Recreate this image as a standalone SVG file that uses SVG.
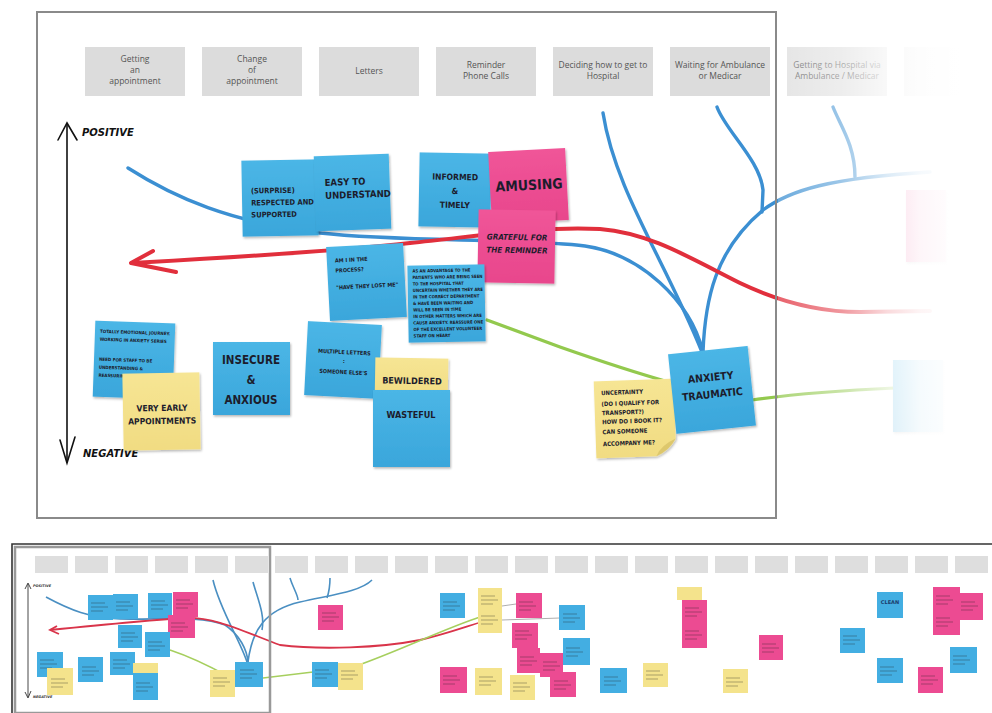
<svg xmlns="http://www.w3.org/2000/svg" width="992" height="713" viewBox="0 0 992 713">
  <defs>
    <filter id="shadow" x="-20%" y="-20%" width="140%" height="140%">
      <feDropShadow dx="1" dy="1.6" stdDeviation="1.3" flood-color="#000" flood-opacity="0.28"/>
    </filter>
    <linearGradient id="blueFill" x1="0" y1="0" x2="0" y2="1">
      <stop offset="0" stop-color="#4bb6e6"/>
      <stop offset="1" stop-color="#3aa6db"/>
    </linearGradient>
    <linearGradient id="pinkFill" x1="0" y1="0" x2="0" y2="1">
      <stop offset="0" stop-color="#f05598"/>
      <stop offset="1" stop-color="#e8468c"/>
    </linearGradient>
    <linearGradient id="yellowFill" x1="0" y1="0" x2="0" y2="1">
      <stop offset="0" stop-color="#f6e594"/>
      <stop offset="1" stop-color="#f1dc82"/>
    </linearGradient>
    <linearGradient id="fadeOut" gradientUnits="userSpaceOnUse" x1="778" y1="0" x2="960" y2="0">
      <stop offset="0" stop-color="#fff" stop-opacity="0.25"/>
      <stop offset="0.35" stop-color="#fff" stop-opacity="0.5"/>
      <stop offset="0.6" stop-color="#fff" stop-opacity="0.82"/>
      <stop offset="0.78" stop-color="#fff" stop-opacity="0.95"/>
      <stop offset="1" stop-color="#fff" stop-opacity="1"/>
    </linearGradient>
    <g id="scrib">
      <path d="M3,6 h14 M3,10 h17 M3,14 h12" stroke="#222" stroke-width="0.8" opacity="0.45" fill="none"/>
    </g>
  </defs>
  <style>
    .hdr { fill: #dcdcdc; }
    .hdrt { font-family: "Open Sans", "Noto Sans", sans-serif; font-size: 8.5px; fill: #555; text-anchor: middle; }
    .nb { fill: url(#blueFill); filter: url(#shadow); }
    .np { fill: url(#pinkFill); filter: url(#shadow); }
    .ny { fill: url(#yellowFill); filter: url(#shadow); }
    .ink { font-family: "DejaVu Sans Condensed", "DejaVu Sans", sans-serif; font-weight: bold; fill: #1c1c2c; }
    .c { text-anchor: middle; }
    .axis { stroke: #111; stroke-width: 1.6; fill: none; stroke-linecap: round; }
    .axt { font-family: "DejaVu Sans", sans-serif; font-weight: bold; font-style: italic; font-size: 10px; fill: #111; }
    .blue { stroke: #3b8fd2; stroke-width: 3.4; fill: none; stroke-linecap: round; }
    .red { stroke: #e12f3c; stroke-width: 4; fill: none; stroke-linecap: round; stroke-linejoin: round; }
    .green { stroke: #93c94e; stroke-width: 3.2; fill: none; stroke-linecap: round; }
    .mhdr { fill: #dedede; }
    .mb { fill: #43aee2; }
    .mp { fill: #ec4b92; }
    .my { fill: #f4e38c; }
    .mblue { stroke: #4a8fc2; stroke-width: 1.6; fill: none; }
    .mred { stroke: #d9344a; stroke-width: 1.8; fill: none; }
    .mgreen { stroke: #a6cf5e; stroke-width: 1.5; fill: none; }
  </style>

  <rect width="992" height="713" fill="#fff"/>

  <!-- ===== Journey detail view ===== -->
  <g id="stages">
    <rect class="hdr" x="85" y="47" width="100" height="49"/>
    <text class="hdrt" x="135" y="62">Getting</text>
    <text class="hdrt" x="135" y="73">an</text>
    <text class="hdrt" x="135" y="84">appointment</text>
    <rect class="hdr" x="202" y="47" width="100" height="49"/>
    <text class="hdrt" x="252" y="62">Change</text>
    <text class="hdrt" x="252" y="73">of</text>
    <text class="hdrt" x="252" y="84">appointment</text>
    <rect class="hdr" x="319" y="47" width="100" height="49"/>
    <text class="hdrt" x="369" y="74">Letters</text>
    <rect class="hdr" x="436" y="47" width="100" height="49"/>
    <text class="hdrt" x="486" y="68">Reminder</text>
    <text class="hdrt" x="486" y="79">Phone Calls</text>
    <rect class="hdr" x="553" y="47" width="100" height="49"/>
    <text class="hdrt" x="603" y="68">Deciding how to get to</text>
    <text class="hdrt" x="603" y="79">Hospital</text>
    <rect class="hdr" x="670" y="47" width="100" height="49"/>
    <text class="hdrt" x="720" y="68">Waiting for Ambulance</text>
    <text class="hdrt" x="720" y="79">or Medicar</text>
    <rect class="hdr" x="787" y="47" width="100" height="49"/>
    <text class="hdrt" x="837" y="68">Getting to Hospital via</text>
    <text class="hdrt" x="837" y="79">Ambulance / Medicar</text>
    <rect class="hdr" x="904" y="47" width="100" height="49"/>
  </g>

  <g id="axis">
    <path class="axis" d="M67,124 L67,462"/>
    <path class="axis" d="M58,140 L67,123 L77,140"/>
    <path class="axis" d="M60,440 L67,463 L75,437"/>
    <text class="axt" x="82" y="136">POSITIVE</text>
    <text class="axt" x="83" y="457">NEGATIVE</text>
  </g>

  <g id="connectors">
    <path class="blue" d="M128,168 C175,198 230,222 320,233 C400,242 520,238 585,246 C640,254 690,300 703,352"/>
    <path class="blue" d="M603,113 C615,190 665,260 702,352"/>
    <path class="blue" d="M717,107 C725,130 760,160 763,190 L762,212"/>
    <path class="blue" d="M703,352 C705,300 715,250 763,210 C790,190 830,178 930,172"/>
    <path class="blue" d="M833,107 C840,125 855,145 855,177" stroke-width="2.6"/>
    <path class="red" d="M132,263 C220,258 330,252 410,243 C480,236 540,226 600,229 C650,233 690,258 740,283 C780,302 820,312 860,312 L930,311"/>
    <path class="red" d="M153,251 L131,263 L176,272"/>
    <path class="green" d="M487,320 L560,347 C600,361 640,374 672,383"/>
    <path class="green" d="M752,400 C800,393 850,390 895,388"/>
  </g>

  <g id="n-respected" transform="rotate(-1 280 198)">
    <rect class="nb" x="242" y="160" width="76" height="76"/>
    <text class="ink" font-size="7.5" x="251" y="193">(SURPRISE)</text>
    <text class="ink" font-size="7.5" x="251" y="205">RESPECTED AND</text>
    <text class="ink" font-size="7.5" x="251" y="217">SUPPORTED</text>
  </g>
  <g id="n-easy" transform="rotate(-2 352 192)">
    <rect class="nb" x="315" y="155" width="75" height="75"/>
    <text class="ink" font-size="9.5" x="325" y="185">EASY TO</text>
    <text class="ink" font-size="9.5" x="325" y="198">UNDERSTAND</text>
  </g>
  <g id="n-informed" transform="rotate(1 455 190)">
    <rect class="nb" x="419" y="153" width="72" height="74"/>
    <text class="ink c" font-size="8.5" x="455" y="180">INFORMED</text>
    <text class="ink c" font-size="8.5" x="455" y="194">&amp;</text>
    <text class="ink c" font-size="8.5" x="455" y="208">TIMELY</text>
  </g>
  <g id="n-amusing" transform="rotate(-3 528 186)">
    <rect class="np" x="490" y="150" width="77" height="72"/>
    <text class="ink c" font-size="14" x="529" y="190">AMUSING</text>
  </g>
  <g id="n-grateful" transform="rotate(1 516 246)">
    <rect class="np" x="478" y="210" width="77" height="73"/>
    <text class="ink c" font-size="8" font-style="italic" x="517" y="240">GRATEFUL FOR</text>
    <text class="ink c" font-size="8" font-style="italic" x="517" y="253">THE REMINDER</text>
  </g>
  <g id="n-process" transform="rotate(-3 366 282)">
    <rect class="nb" x="328" y="245" width="77" height="74"/>
    <text class="ink" font-size="5.5" x="336" y="261">AM I IN THE</text>
    <text class="ink" font-size="5.5" x="336" y="271">PROCESS?</text>
    <text class="ink" font-size="5.5" x="336" y="288">"HAVE THEY LOST ME"</text>
  </g>
  <g id="n-volunteer" transform="rotate(-1 446 303)">
    <rect class="nb" x="408" y="265" width="77" height="77"/>
    <g class="ink" font-size="4.3">
      <text x="413" y="272">AS AN ADVANTAGE TO THE</text>
      <text x="413" y="278.5">PATIENTS WHO ARE BEING SEEN</text>
      <text x="413" y="285">TO THE HOSPITAL THAT</text>
      <text x="413" y="291.5">UNCERTAIN WHETHER THEY ARE</text>
      <text x="413" y="298">IN THE CORRECT DEPARTMENT</text>
      <text x="413" y="304.5">&amp; HAVE BEEN WAITING AND</text>
      <text x="413" y="311">WILL BE SEEN IN TIME</text>
      <text x="413" y="317.5">IN OTHER MATTERS WHICH ARE</text>
      <text x="413" y="324">CAUSE ANXIETY. REASSURE ONE</text>
      <text x="413" y="330.5">OF THE EXCELLENT VOLUNTEER</text>
      <text x="413" y="337">STAFF ON HEART</text>
    </g>
  </g>
  <g id="n-emotional" transform="rotate(2 133 360)">
    <path class="nb" d="M94,322 H174 V385 Q168,396 158,398 H94 Z"/>
    <path d="M174,385 Q168,396 158,398 Q163,390 174,385 Z" fill="#2c8fc2" opacity="0.6"/>
    <g class="ink" font-size="4.5">
      <text x="99" y="334">TOTALLY EMOTIONAL JOURNEY.</text>
      <text x="99" y="342">WORKING IN ANXIETY SERIES</text>
      <text x="99" y="362">NEED FOR STAFF TO BE</text>
      <text x="99" y="370">UNDERSTANDING &amp;</text>
      <text x="99" y="378">REASSURING</text>
    </g>
  </g>
  <g id="n-early" transform="rotate(-1 161 411)">
    <rect class="ny" x="123" y="373" width="77" height="77"/>
    <text class="ink c" font-size="8.5" x="162" y="411">VERY EARLY</text>
    <text class="ink c" font-size="8.5" x="162" y="424">APPOINTMENTS</text>
  </g>
  <g id="n-insecure">
    <rect class="nb" x="213" y="342" width="77" height="73"/>
    <text class="ink c" font-size="11.5" x="251" y="364">INSECURE</text>
    <text class="ink c" font-size="11.5" x="251" y="384">&amp;</text>
    <text class="ink c" font-size="11.5" x="251" y="404">ANXIOUS</text>
  </g>
  <g id="n-letters" transform="rotate(3 343 360)">
    <rect class="nb" x="306" y="323" width="74" height="74"/>
    <text class="ink c" font-size="5.5" x="344" y="354">MULTIPLE LETTERS</text>
    <text class="ink c" font-size="5.5" x="344" y="363">:</text>
    <text class="ink c" font-size="5.5" x="344" y="374">SOMEONE ELSE'S</text>
  </g>
  <g id="n-bewildered" transform="rotate(1 411 380)">
    <rect class="ny" x="375" y="358" width="73" height="40"/>
    <text class="ink c" font-size="9" x="412" y="384">BEWILDERED</text>
  </g>
  <g id="n-wasteful">
    <rect class="nb" x="373" y="390" width="77" height="77"/>
    <text class="ink c" font-size="9" x="411" y="418">WASTEFUL</text>
  </g>
  <g id="n-uncertainty" transform="rotate(-2 635 418)">
    <path class="ny" d="M595,380 H675 V440 Q668,452 655,457 H595 Z"/>
    <path d="M675,440 Q668,452 655,457 Q660,446 675,440 Z" fill="#d8c266" opacity="0.8"/>
    <g class="ink" font-size="6">
      <text x="602" y="394">UNCERTAINTY</text>
      <text x="602" y="405">(DO I QUALIFY FOR</text>
      <text x="602" y="414">TRANSPORT?)</text>
      <text x="602" y="423">HOW DO I BOOK IT?</text>
      <text x="602" y="433">CAN SOMEONE</text>
      <text x="602" y="445">ACCOMPANY ME?</text>
    </g>
  </g>
  <g id="n-anxiety" transform="rotate(-6 711 390)">
    <rect class="nb" x="672" y="350" width="80" height="80"/>
    <text class="ink c" font-size="10.5" x="712" y="381">ANXIETY</text>
    <text class="ink c" font-size="10.5" x="712" y="398">TRAUMATIC</text>
  </g>
  <g id="n-faded-pink">
    <rect class="np" x="906" y="190" width="40" height="72"/>
  </g>
  <g id="n-faded-blue">
    <rect class="nb" x="893" y="360" width="50" height="72"/>
  </g>

  <!-- fade the stages beyond the viewing frame -->
  <rect x="778" y="0" width="214" height="525" fill="url(#fadeOut)"/>
  <rect id="frame" x="37" y="12" width="739" height="506" fill="none" stroke="#8a8a8a" stroke-width="2"/>

  <!-- ===== Full journey overview ===== -->
  <g id="overview">
    <g id="overview-stages">
      <rect class="mhdr" x="35" y="556" width="33" height="17"/>
      <rect class="mhdr" x="75" y="556" width="33" height="17"/>
      <rect class="mhdr" x="115" y="556" width="33" height="17"/>
      <rect class="mhdr" x="155" y="556" width="33" height="17"/>
      <rect class="mhdr" x="195" y="556" width="33" height="17"/>
      <rect class="mhdr" x="235" y="556" width="33" height="17"/>
      <rect class="mhdr" x="275" y="556" width="33" height="17"/>
      <rect class="mhdr" x="315" y="556" width="33" height="17"/>
      <rect class="mhdr" x="355" y="556" width="33" height="17"/>
      <rect class="mhdr" x="395" y="556" width="33" height="17"/>
      <rect class="mhdr" x="435" y="556" width="33" height="17"/>
      <rect class="mhdr" x="475" y="556" width="33" height="17"/>
      <rect class="mhdr" x="515" y="556" width="33" height="17"/>
      <rect class="mhdr" x="555" y="556" width="33" height="17"/>
      <rect class="mhdr" x="595" y="556" width="33" height="17"/>
      <rect class="mhdr" x="635" y="556" width="33" height="17"/>
      <rect class="mhdr" x="675" y="556" width="33" height="17"/>
      <rect class="mhdr" x="715" y="556" width="33" height="17"/>
      <rect class="mhdr" x="755" y="556" width="33" height="17"/>
      <rect class="mhdr" x="795" y="556" width="33" height="17"/>
      <rect class="mhdr" x="835" y="556" width="33" height="17"/>
      <rect class="mhdr" x="875" y="556" width="33" height="17"/>
      <rect class="mhdr" x="915" y="556" width="33" height="17"/>
      <rect class="mhdr" x="955" y="556" width="33" height="17"/>
    </g>
    <g id="overview-axis">
      <path d="M28,584 L28,697 M25,589 L28,583 L31,589 M25,692 L28,698 L31,691" stroke="#333" stroke-width="0.9" fill="none"/>
      <text x="33" y="587" font-family="DejaVu Sans, sans-serif" font-size="3.5" font-weight="bold" font-style="italic" fill="#333">POSITIVE</text>
      <text x="33" y="698" font-family="DejaVu Sans, sans-serif" font-size="3.5" font-weight="bold" font-style="italic" fill="#333">NEGATIVE</text>
    </g>
    <g id="overview-connectors">
      <path class="mblue" d="M46,597 C70,610 90,618 120,619 C160,620 200,615 225,625 C240,635 247,650 248,662"/>
      <path class="mblue" d="M213,580 C220,610 240,640 247,662"/>
      <path class="mblue" d="M253,582 C258,600 265,615 262,630"/>
      <path class="mblue" d="M248,662 C252,630 265,610 300,602 C330,595 360,592 372,580"/>
      <path class="mblue" d="M290,578 C293,588 298,595 298,600 M330,578 C330,588 328,595 327,598"/>
      <path class="mred" d="M50,630 C100,625 150,620 185,618 C215,617 240,630 280,645 C320,650 380,648 420,640 C450,633 470,625 485,621"/>
      <path class="mred" d="M57,626 L50,630 L59,634"/>
      <path class="mgreen" d="M170,650 C200,660 220,672 235,680 M263,678 L313,672 M338,672 C380,660 440,630 480,617"/>
      <path d="M502,606 L516,604 M502,620 L560,618" stroke="#999" stroke-width="0.8" fill="none"/>
    </g>
    <g id="overview-notes">
      <rect class="mb" x="88" y="595" width="25" height="25"/><use href="#scrib" x="88" y="597"/>
      <rect class="mb" x="113" y="594" width="25" height="25"/><use href="#scrib" x="113" y="596"/>
      <rect class="mb" x="148" y="593" width="24" height="25"/><use href="#scrib" x="148" y="595"/>
      <rect class="mp" x="173" y="592" width="25" height="25"/><use href="#scrib" x="173" y="594"/>
      <rect class="mp" x="168" y="615" width="27" height="23"/><use href="#scrib" x="168" y="617"/>
      <rect class="mb" x="118" y="625" width="24" height="23"/><use href="#scrib" x="118" y="627"/>
      <rect class="mb" x="145" y="632" width="25" height="25"/><use href="#scrib" x="145" y="636"/>
      <rect class="mb" x="37" y="652" width="26" height="25"/><use href="#scrib" x="37" y="654"/>
      <rect class="my" x="47" y="668" width="26" height="27"/><use href="#scrib" x="48" y="673"/>
      <rect class="mb" x="78" y="657" width="25" height="25"/><use href="#scrib" x="79" y="661"/>
      <rect class="mb" x="110" y="652" width="25" height="23"/><use href="#scrib" x="110" y="654"/>
      <rect class="my" x="133" y="663" width="25" height="10"/>
      <rect class="mb" x="133" y="673" width="25" height="27"/><use href="#scrib" x="133" y="677"/>
      <rect class="my" x="210" y="670" width="25" height="27"/><use href="#scrib" x="210" y="672"/>
      <rect class="mb" x="235" y="662" width="28" height="25"/><use href="#scrib" x="237" y="664"/>
      <rect class="mp" x="318" y="605" width="25" height="25"/><use href="#scrib" x="319" y="607"/>
      <rect class="mb" x="312" y="662" width="26" height="25"/><use href="#scrib" x="312" y="664"/>
      <rect class="my" x="338" y="663" width="25" height="27"/><use href="#scrib" x="338" y="665"/>
      <rect class="mb" x="440" y="593" width="25" height="25"/><use href="#scrib" x="440" y="596"/>
      <rect class="my" x="478" y="588" width="24" height="45"/><use href="#scrib" x="478" y="590"/><use href="#scrib" x="478" y="610"/>
      <rect class="mp" x="440" y="667" width="27" height="26"/><use href="#scrib" x="440" y="670"/>
      <rect class="my" x="475" y="668" width="27" height="27"/><use href="#scrib" x="476" y="671"/>
      <rect class="mp" x="516" y="593" width="26" height="25"/><use href="#scrib" x="516" y="596"/>
      <rect class="mb" x="559" y="605" width="26" height="25"/><use href="#scrib" x="560" y="608"/>
      <rect class="mp" x="512" y="623" width="26" height="25"/><use href="#scrib" x="512" y="625"/>
      <rect class="mp" x="517" y="648" width="23" height="25"/><use href="#scrib" x="517" y="651"/>
      <rect class="mp" x="540" y="653" width="23" height="24"/><use href="#scrib" x="540" y="656"/>
      <rect class="mb" x="563" y="638" width="27" height="27"/><use href="#scrib" x="563" y="642"/>
      <rect class="mp" x="550" y="672" width="26" height="25"/><use href="#scrib" x="551" y="675"/>
      <rect class="my" x="510" y="675" width="25" height="25"/><use href="#scrib" x="510" y="677"/>
      <rect class="mb" x="600" y="668" width="27" height="25"/><use href="#scrib" x="601" y="671"/>
      <rect class="my" x="643" y="663" width="25" height="24"/><use href="#scrib" x="643" y="665"/>
      <rect class="my" x="677" y="587" width="25" height="13"/>
      <rect class="mp" x="682" y="600" width="25" height="48"/><use href="#scrib" x="682" y="602"/><use href="#scrib" x="682" y="625"/>
      <rect class="my" x="723" y="669" width="25" height="24"/><use href="#scrib" x="723" y="672"/>
      <rect class="mp" x="759" y="635" width="24" height="25"/><use href="#scrib" x="759" y="638"/>
      <rect class="mb" x="840" y="628" width="25" height="25"/><use href="#scrib" x="840" y="630"/>
      <rect class="mb" x="877" y="592" width="26" height="26"/>
      <text x="890" y="604" font-family="DejaVu Sans, sans-serif" font-size="5" font-weight="bold" fill="#1c3c6c" text-anchor="middle">CLEAN</text>
      <rect class="mb" x="877" y="658" width="26" height="25"/><use href="#scrib" x="877" y="661"/>
      <rect class="mp" x="918" y="667" width="25" height="26"/><use href="#scrib" x="918" y="670"/>
      <rect class="mp" x="933" y="587" width="27" height="48"/><use href="#scrib" x="933" y="590"/><use href="#scrib" x="933" y="612"/>
      <rect class="mp" x="958" y="593" width="25" height="27"/><use href="#scrib" x="958" y="596"/>
      <rect class="mb" x="950" y="647" width="27" height="26"/><use href="#scrib" x="950" y="650"/>
    </g>
    <rect id="overview-viewport" x="15" y="547" width="255" height="166" fill="none" stroke="#999" stroke-width="2.5"/>
    <path id="overview-frame" d="M12,713 L12,544 L992,544" fill="none" stroke="#333" stroke-width="1.6"/>
  </g>
</svg>
